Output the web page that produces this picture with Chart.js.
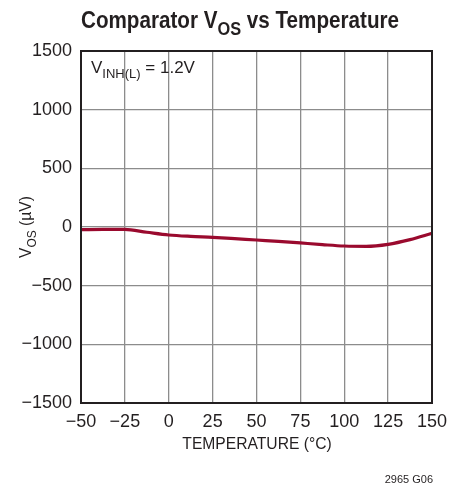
<!DOCTYPE html>
<html>
<head>
<meta charset="utf-8">
<script src="https://cdn.jsdelivr.net/npm/chart.js@4"></script>
<style>
  html, body { margin: 0; padding: 0; background: #fff; }
  #wrap { width: 464px; height: 486px; }
</style>
</head>
<body>
<div id="wrap"><canvas id="chart" width="464" height="486"></canvas></div>
<script>
// temperature (°C) and comparator offset (µV)
const temps = [-50, -37.5, -25, -12.5, 0, 12.5, 25, 37.5, 50, 62.5, 75, 87.5, 100, 112.5, 125, 137.5, 150];
const vos = [-23, -20, -21, -45, -68, -80, -88, -99, -111, -122, -136, -150, -162, -165, -148, -108, -54];
const xTicks = [-50, -25, 0, 25, 50, 75, 100, 125, 150];
const yTicks = [-1500, -1000, -500, 0, 500, 1000, 1500];

const FONT = '"Liberation Sans Narrow", "Liberation Sans", Arial, sans-serif';
const minus = (v) => String(v).replace('-', '\u2212');

// draw text with a subscript part: parts = [[text, isSub], ...]
// sx squeezes the text sideways to mimic a condensed face
function drawParts(ctx, parts, x, y, size, weight, align, sx = 1) {
  const subSize = Math.round(size * 0.78);
  let total = 0;
  parts.forEach(([t, sub]) => {
    ctx.font = `${weight} ${sub ? subSize : size}px ${FONT}`;
    total += ctx.measureText(t).width;
  });
  ctx.save();
  ctx.translate(x, y);
  ctx.scale(sx, 1);
  let cx = align === 'center' ? -total / 2 : 0;
  parts.forEach(([t, sub]) => {
    ctx.font = `${weight} ${sub ? subSize : size}px ${FONT}`;
    ctx.fillText(t, cx, sub ? size * 0.28 : 0);
    cx += ctx.measureText(t).width;
  });
  ctx.restore();
}

const textPlugin = {
  id: 'texts',
  afterDraw(chart) {
    const ctx = chart.ctx;
    const area = chart.chartArea;
    ctx.save();
    ctx.fillStyle = '#231f20';
    ctx.textBaseline = 'alphabetic';
    ctx.textAlign = 'left';
    // title
    drawParts(ctx, [['Comparator V', false], ['OS', true], [' vs Temperature', false]],
      240, 28, 24, 'bold', 'center', 0.86);
    // annotation
    drawParts(ctx, [['V', false], ['INH(L)', true], [' = 1.2V', false]],
      area.left + 10, 73, 17, 'normal', 'left');
    // x-axis title
    drawParts(ctx, [['TEMPERATURE (\u00b0C)', false]], 257, 449, 17, 'normal', 'center', 0.92);
    // y-axis title, rotated
    ctx.save();
    ctx.translate(31, 227);
    ctx.rotate(-Math.PI / 2);
    drawParts(ctx, [['V', false], ['OS', true], [' (\u00b5V)', false]], 0, 0, 17, 'normal', 'center', 0.92);
    ctx.restore();
    // footnote
    ctx.font = `11px ${FONT}`;
    ctx.textAlign = 'right';
    ctx.fillText('2965 G06', 433, 483);
    // frame around the plot area
    ctx.strokeStyle = '#231f20';
    ctx.lineWidth = 2;
    ctx.strokeRect(area.left, area.top, area.right - area.left, area.bottom - area.top);
    ctx.restore();
  }
};

new Chart(document.getElementById('chart'), {
  type: 'line',
  data: {
    datasets: [{
      data: temps.map((t, i) => ({ x: t, y: vos[i] })),
      borderColor: '#9a0a2e',
      borderWidth: 3.2,
      pointRadius: 0,
      cubicInterpolationMode: 'monotone',
      fill: false,
    }],
  },
  options: {
    responsive: false,
    animation: false,
    layout: { padding: { top: 51, right: 32, left: 0, bottom: 0 } },
    plugins: {
      legend: { display: false },
      tooltip: { enabled: false },
      title: { display: false },
    },
    scales: {
      x: {
        type: 'linear',
        min: -50,
        max: 150,
        afterBuildTicks: (axis) => { axis.ticks = xTicks.map((v) => ({ value: v })); },
        afterFit: (axis) => { axis.height = 83; },
        grid: { color: '#8c8c8c', lineWidth: 1.3, drawTicks: false },
        border: { display: false },
        ticks: {
          color: '#231f20',
          padding: 8,
          font: { family: FONT, size: 18 },
          callback: (v) => minus(v),
          maxRotation: 0,
        },
      },
      y: {
        min: -1500,
        max: 1500,
        afterBuildTicks: (axis) => { axis.ticks = yTicks.map((v) => ({ value: v })); },
        afterFit: (axis) => { axis.width = 81; },
        grid: { color: '#8c8c8c', lineWidth: 1.3, drawTicks: false },
        border: { display: false },
        ticks: {
          color: '#231f20',
          padding: 9,
          font: { family: FONT, size: 18 },
          callback: (v) => minus(v),
        },
      },
    },
  },
  plugins: [textPlugin],
});
</script>
</body>
</html>
